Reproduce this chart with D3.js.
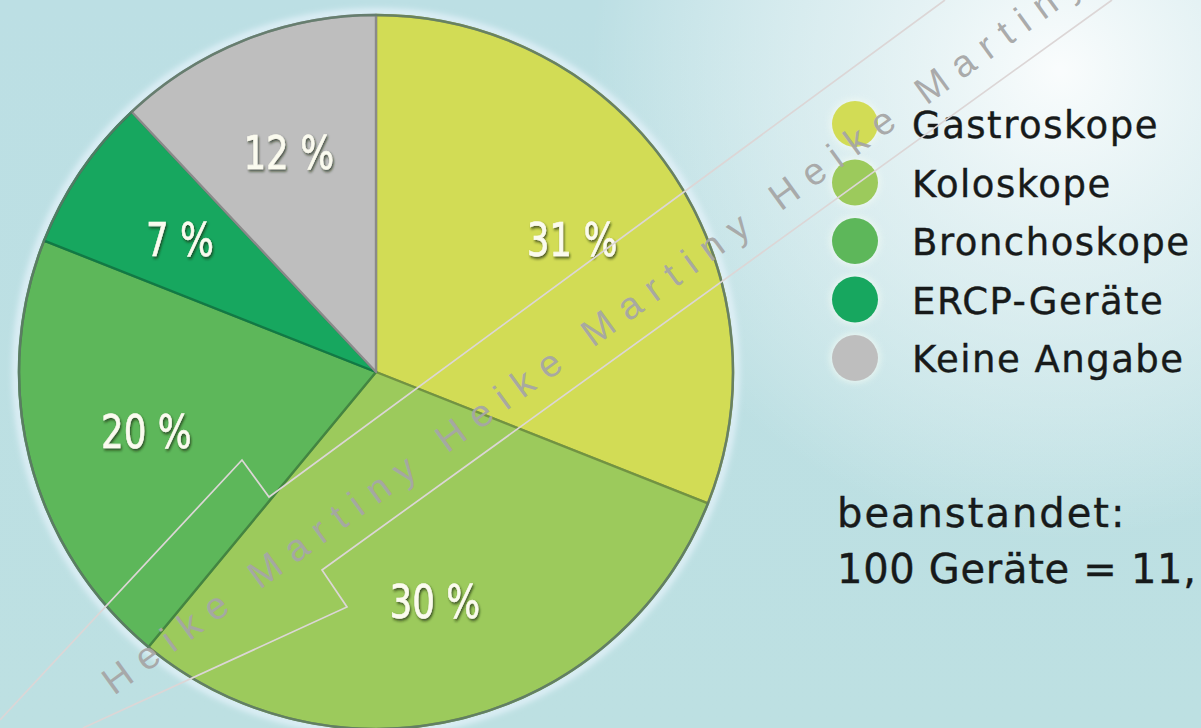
<!DOCTYPE html>
<html>
<head>
<meta charset="utf-8">
<script src="https://cdn.jsdelivr.net/npm/d3@7"></script>
<style>
  html, body { margin: 0; padding: 0; overflow: hidden; }
  svg { display: block; }
</style>
</head>
<body>
<svg id="chart" width="1201" height="728"></svg>
<script>
// Beanstandete Endoskope nach Gerätetyp
const categories = ["Gastroskope", "Koloskope", "Bronchoskope", "ERCP-Geräte", "Keine Angabe"];
const shares = [31, 30, 20, 7, 12];
const sliceColors = ["#d2dc55", "#9cca5c", "#5db75a", "#17a75f", "#bebebe"];
const summaryLines = ["beanstandet:", "100 Geräte = 11,"];
const watermarkText = "Heike Martiny Heike Martiny Heike Martiny";

const W = 1201, H = 728;
const svg = d3.select("#chart");
const defs = svg.append("defs");

// background: pale blue with a soft white glow in the upper right
const lg = defs.append("linearGradient").attr("id", "bg").attr("x1", 0).attr("y1", 0).attr("x2", 0).attr("y2", 1);
lg.append("stop").attr("offset", 0).attr("stop-color", "#bcdfe4");
lg.append("stop").attr("offset", 1).attr("stop-color", "#bde0e2");
const rg = defs.append("radialGradient").attr("id", "glow")
  .attr("gradientUnits", "userSpaceOnUse").attr("cx", 1060).attr("cy", 70).attr("r", 470);
rg.append("stop").attr("offset", 0).attr("stop-color", "#ffffff").attr("stop-opacity", 0.92);
rg.append("stop").attr("offset", 0.45).attr("stop-color", "#f4f9fa").attr("stop-opacity", 0.6);
rg.append("stop").attr("offset", 1).attr("stop-color", "#ffffff").attr("stop-opacity", 0);

svg.append("rect").attr("width", W).attr("height", H).attr("fill", "url(#bg)");
svg.append("rect").attr("width", W).attr("height", H).attr("fill", "url(#glow)");

// filters
const soft = defs.append("filter").attr("id", "soft").attr("x", "-20%").attr("y", "-20%").attr("width", "140%").attr("height", "140%");
soft.append("feGaussianBlur").attr("stdDeviation", 3);

const labelShadow = defs.append("filter").attr("id", "lblShadow").attr("x", "-20%").attr("y", "-30%").attr("width", "140%").attr("height", "160%");
labelShadow.append("feDropShadow").attr("dx", 1.5).attr("dy", 2).attr("stdDeviation", 1.6)
  .attr("flood-color", "#1d2a10").attr("flood-opacity", 0.75);

// pie
const cx = 376, cy = 372, R = 357;
const pie = d3.pie().sort(null).value(d => d)(shares);
const arc = d3.arc().innerRadius(0).outerRadius(R);
const labelArc = d3.arc().innerRadius(237).outerRadius(237);

const g = svg.append("g").attr("transform", `translate(${cx},${cy})`);

// light halo around the disc
g.append("circle").attr("r", R + 3).attr("fill", "none")
  .attr("stroke", "#e6f3fb").attr("stroke-width", 6).attr("filter", "url(#soft)");

g.selectAll("path.slice").data(pie).join("path")
  .attr("class", "slice")
  .attr("d", arc)
  .attr("fill", (d, i) => sliceColors[i])
  .attr("stroke", (d, i) => d3.color(sliceColors[i]).darker(0.9))
  .attr("stroke-width", 2.4)
  .attr("stroke-linejoin", "round");

// rim
g.append("circle").attr("r", R).attr("fill", "none")
  .attr("stroke", "#5f7b6a").attr("stroke-width", 2.5).attr("stroke-opacity", 0.85);

// percentage labels (narrowed glyphs)
g.selectAll("text.pct").data(pie).join("text")
  .attr("class", "pct")
  .attr("transform", d => `translate(${labelArc.centroid(d)}) scale(0.76,1)`)
  .attr("text-anchor", "middle")
  .attr("dy", "0.36em")
  .attr("font-family", "'DejaVu Sans', sans-serif")
  .attr("font-size", 47)
  .attr("fill", "#fbfbef")
  .attr("stroke", "#fbfbef")
  .attr("stroke-width", 0.6)
  .attr("filter", "url(#lblShadow)")
  .text((d, i) => shares[i] + " %");

// legend
const legend = svg.append("g");
const rowY = d3.scalePoint().domain(categories).range([124, 358]);
const rows = legend.selectAll("g.row").data(categories).join("g")
  .attr("class", "row")
  .attr("transform", d => `translate(0,${rowY(d)})`);
rows.append("circle").attr("cx", 855).attr("r", 25)
  .attr("fill", "#f4fbf4").attr("opacity", 0.7).attr("filter", "url(#soft)");
rows.append("circle").attr("cx", 855).attr("r", 23)
  .attr("fill", (d, i) => sliceColors[i]);
rows.append("text")
  .attr("x", 912).attr("y", 14)
  .attr("font-family", "'DejaVu Sans', sans-serif")
  .attr("font-size", 37)
  .attr("letter-spacing", 1.5)
  .attr("fill", "#171a1a")
  .attr("stroke", "#171a1a")
  .attr("stroke-width", 0.4)
  .text(d => d);

// summary
const summarySpacing = [2, 0.7];
svg.append("g").selectAll("text").data(summaryLines).join("text")
  .attr("x", 837)
  .attr("y", (d, i) => 527 + i * 56)
  .attr("font-family", "'DejaVu Sans', sans-serif")
  .attr("font-size", 40)
  .attr("letter-spacing", (d, i) => summarySpacing[i])
  .attr("fill", "#171a1a")
  .attr("stroke", "#171a1a")
  .attr("stroke-width", 0.4)
  .text(d => d);

// watermark: outlined band and spaced lettering
const wm = svg.append("g").attr("pointer-events", "none");
const bandUpper = [[945, 0], [269, 497], [242, 460], [0, 720]];
const bandLower = [[1112, 0], [322, 570], [347, 607], [83, 728]];
const line = d3.line();
[bandUpper, bandLower].forEach(pts => {
  wm.append("path").attr("d", line(pts)).attr("fill", "none")
    .attr("stroke", "#dcd6d6").attr("stroke-width", 1.7);
});

const wmFont = 38;
const period = 412;
const ctx = document.createElement("canvas").getContext("2d");
ctx.font = `${wmFont}px 'Liberation Sans', Arial, sans-serif`;
const unit = "Heike Martiny ";
const natural = ctx.measureText(unit).width;
const spacing = (period - natural) / unit.length;

wm.append("text")
  .attr("transform", "translate(114,696) rotate(-36)")
  .attr("font-family", "'Liberation Sans', Arial, sans-serif")
  .attr("font-size", wmFont)
  .attr("letter-spacing", spacing)
  .style("white-space", "pre")
  .attr("fill", "#a6a6a6")
  .attr("fill-opacity", 0.95)
  .text(watermarkText);
</script>
</body>
</html>
